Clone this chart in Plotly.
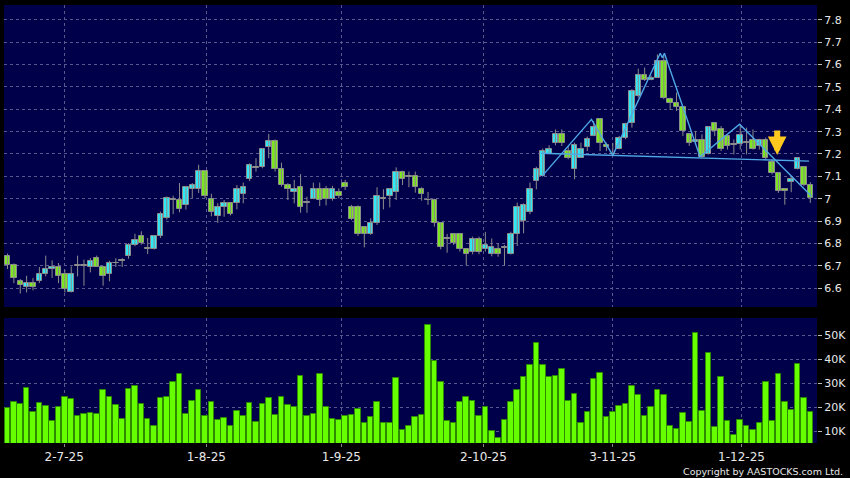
import plotly.graph_objects as go

# ---------------- data ----------------
opens = [6.743, 6.703, 6.631, 6.604, 6.622, 6.63, 6.663, 6.685, 6.694, 6.663,
         6.582, 6.7, 6.7, 6.694, 6.734, 6.694, 6.663, 6.712, 6.722, 6.742,
         6.793, 6.833, 6.776, 6.776, 6.833, 6.913, 6.998, 6.993, 6.973, 7.043,
         7.043, 7.124, 7.0, 6.922, 6.961, 6.979, 6.979, 7.021, 7.09, 7.14,
         7.14, 7.23, 7.26, 7.131, 7.06, 7.028, 7.051, 6.982, 7.0, 7.042,
         7.042, 7.0, 7.03, 7.07, 6.961, 6.961, 6.872, 6.84, 6.89, 7.0,
         7.01, 7.03, 7.121, 7.1, 7.1, 7.042, 6.994, 6.994, 6.89, 6.821,
         6.842, 6.842, 6.773, 6.76, 6.821, 6.773, 6.751, 6.773, 6.782, 6.751,
         6.842, 6.901, 6.939, 7.081, 7.101, 7.201, 7.251, 7.291, 7.213, 7.134,
         7.184, 7.233, 7.281, 7.355, 7.242, 7.2, 7.224, 7.273, 7.34, 7.46,
         7.552, 7.531, 7.542, 7.616, 7.445, 7.43, 7.412, 7.291, 7.253, 7.262,
         7.202, 7.34, 7.313, 7.28, 7.243, 7.243, 7.25, 7.262, 7.235, 7.262,
         7.163, 7.113, 7.044, 7.074, 7.134, 7.143, 7.063]
highs = [6.754, 6.71, 6.64, 6.655, 6.645, 6.694, 6.745, 6.724, 6.712, 6.682,
         6.697, 6.745, 6.727, 6.734, 6.745, 6.7, 6.722, 6.734, 6.734, 6.801,
         6.843, 6.854, 6.824, 6.835, 6.942, 7.01, 7.013, 7.07, 7.055, 7.07,
         7.152, 7.126, 7.022, 6.98, 6.994, 6.985, 7.061, 7.072, 7.158, 7.181,
         7.225, 7.29, 7.265, 7.161, 7.069, 7.084, 7.11, 7.009, 7.072, 7.072,
         7.057, 7.057, 7.046, 7.084, 6.972, 6.97, 6.875, 6.912, 7.051, 7.042,
         7.045, 7.14, 7.125, 7.121, 7.121, 7.051, 7.03, 7.0, 6.893, 6.842,
         6.845, 6.846, 6.776, 6.83, 6.83, 6.851, 6.822, 6.8, 6.793, 6.852,
         6.982, 6.979, 7.072, 7.143, 7.224, 7.239, 7.31, 7.31, 7.236, 7.251,
         7.251, 7.278, 7.348, 7.357, 7.251, 7.25, 7.281, 7.34, 7.49, 7.582,
         7.587, 7.552, 7.646, 7.646, 7.452, 7.475, 7.415, 7.293, 7.303, 7.288,
         7.325, 7.342, 7.325, 7.282, 7.265, 7.333, 7.318, 7.31, 7.268, 7.273,
         7.175, 7.115, 7.046, 7.1, 7.185, 7.145, 7.074]
lows = [6.685, 6.622, 6.575, 6.58, 6.59, 6.622, 6.652, 6.645, 6.622, 6.58,
        6.58, 6.652, 6.61, 6.67, 6.694, 6.61, 6.63, 6.694, 6.694, 6.731,
        6.787, 6.794, 6.752, 6.772, 6.824, 6.906, 6.931, 6.939, 6.951, 7.003,
        7.025, 7.003, 6.921, 6.891, 6.919, 6.925, 6.952, 6.979, 7.079, 7.121,
        7.136, 7.181, 7.121, 7.054, 6.994, 6.979, 6.937, 6.937, 6.998, 6.967,
        6.97, 6.991, 7.001, 7.039, 6.904, 6.833, 6.782, 6.838, 6.882, 6.952,
        6.961, 6.994, 7.061, 7.051, 7.027, 6.991, 6.972, 6.875, 6.773, 6.758,
        6.793, 6.763, 6.701, 6.751, 6.751, 6.763, 6.742, 6.74, 6.701, 6.75,
        6.788, 6.845, 6.931, 7.042, 7.1, 7.199, 7.239, 7.236, 7.176, 7.087,
        7.182, 7.213, 7.28, 7.213, 7.213, 7.19, 7.221, 7.266, 7.318, 7.452,
        7.527, 7.53, 7.54, 7.445, 7.397, 7.393, 7.281, 7.236, 7.243, 7.183,
        7.198, 7.28, 7.213, 7.22, 7.198, 7.22, 7.198, 7.22, 7.22, 7.175,
        7.108, 7.026, 6.973, 7.029, 7.131, 7.056, 6.981]
closes = [6.703, 6.645, 6.612, 6.622, 6.604, 6.663, 6.687, 6.694, 6.652, 6.595,
          6.663, 6.7, 6.7, 6.722, 6.694, 6.652, 6.712, 6.712, 6.722, 6.793,
          6.816, 6.801, 6.776, 6.833, 6.931, 7.001, 6.998, 6.952, 7.052, 7.063,
          7.124, 7.012, 6.942, 6.963, 6.979, 6.93, 7.042, 7.051, 7.149, 7.14,
          7.221, 7.26, 7.131, 7.06, 7.042, 7.042, 6.961, 6.982, 7.042, 6.994,
          7.0, 7.042, 7.01, 7.051, 6.91, 6.84, 6.84, 6.89, 7.01, 7.0,
          7.042, 7.121, 7.09, 7.1, 7.051, 7.019, 6.994, 6.89, 6.782, 6.821,
          6.8, 6.773, 6.751, 6.821, 6.76, 6.791, 6.782, 6.751, 6.782, 6.842,
          6.961, 6.97, 7.042, 7.131, 7.213, 7.224, 7.291, 7.251, 7.184, 7.239,
          7.224, 7.266, 7.321, 7.251, 7.231, 7.2, 7.273, 7.333, 7.482, 7.552,
          7.531, 7.542, 7.616, 7.452, 7.43, 7.412, 7.303, 7.251, 7.262, 7.187,
          7.322, 7.303, 7.223, 7.238, 7.243, 7.283, 7.25, 7.223, 7.262, 7.183,
          7.113, 7.033, 7.033, 7.086, 7.183, 7.063, 7.003]
volumes_k = [19.4, 21.9, 21.4, 27.9, 18.1, 21.8, 20.6, 14.2, 20.1, 24.3,
             23.5, 16.3, 16.9, 17.4, 17.1, 27.1, 24.2, 20.8, 15.1, 27.4,
             28.8, 21.3, 15.0, 12.1, 23.8, 24.3, 30.6, 33.8, 17.1, 22.4,
             26.9, 16.1, 21.9, 14.6, 15.4, 12.1, 18.5, 16.4, 21.8, 13.8,
             21.3, 23.6, 16.7, 24.0, 20.7, 20.1, 33.1, 16.3, 16.9, 33.8,
             19.9, 15.0, 14.4, 16.4, 16.7, 19.3, 13.2, 16.0, 21.9, 13.3,
             13.3, 31.9, 10.4, 12.2, 16.0, 16.7, 54.2, 39.2, 30.6, 14.2,
             13.2, 21.9, 24.3, 22.5, 16.3, 20.0, 9.9, 7.1, 14.7, 21.9,
             26.9, 32.5, 37.5, 46.7, 37.5, 32.5, 33.1, 35.7, 22.6, 25.3,
             13.5, 18.1, 31.7, 34.2, 16.0, 18.1, 20.3, 21.4, 28.6, 25.0,
             16.3, 19.9, 26.9, 24.9, 12.1, 10.8, 17.6, 13.8, 50.8, 18.2,
             42.4, 11.7, 32.4, 14.2, 8.2, 14.6, 11.9, 10.6, 13.5, 30.3,
             14.2, 33.6, 22.2, 18.9, 37.9, 23.6, 17.9]

date_tick_pos = [8.9, 31.2, 52.4, 74.7, 95.0, 115.2]
date_tick_text = ["2-7-25", "1-8-25", "1-9-25", "2-10-25", "3-11-25", "1-12-25"]
price_ticks = [6.6, 6.7, 6.8, 6.9, 7.0, 7.1, 7.2, 7.3, 7.4, 7.5, 7.6, 7.7, 7.8]
price_tick_text = ["6.6", "6.7", "6.8", "6.9", "7", "7.1", "7.2", "7.3", "7.4", "7.5", "7.6", "7.7", "7.8"]
vol_ticks = [10000, 20000, 30000, 40000, 50000]
vol_tick_text = ["10K", "20K", "30K", "40K", "50K"]

# pattern lines (index, price)
zigzag_x = [83.9, 91.65, 95.0, 102.45, 102.77, 103.1, 108.7, 114.9, 126.2]
zigzag_y = [7.101, 7.355, 7.194, 7.651, 7.631, 7.651, 7.187, 7.333, 7.011]
neck_x = [83.7, 125.8]
neck_y = [7.203, 7.168]
signal_x = 120.8
signal_y = 7.195

# ---------------- figure ----------------
n = len(closes)
idx = list(range(n))

CYAN = "#30E8F6"
GREEN = "#7CE620"
GRID = "#58588E"
TXT = "#E8E8E8"
FONT = "DejaVu Sans"

fig = go.Figure()

# wicks
wx, wy = [], []
for i in idx:
    wx += [i, i, None]
    wy += [lows[i], highs[i], None]
fig.add_trace(go.Scatter(x=wx, y=wy, mode="lines", line=dict(color="#8C8C8C", width=1),
                         hoverinfo="skip", showlegend=False, xaxis="x", yaxis="y"))

# bodies
bases, heights, colors = [], [], []
for o, c in zip(opens, closes):
    lo = min(o, c)
    h = abs(c - o)
    if h < 0.004:
        h = 0.004
        lo = min(o, c) - 0.002
    bases.append(lo)
    heights.append(h)
    colors.append(CYAN if c > o else (GREEN if c < o else "#8C8C8C"))
fig.add_trace(go.Bar(x=idx, y=heights, base=bases, width=0.86,
                     marker=dict(color=colors, line=dict(color="#8C8C8C", width=1)),
                     showlegend=False, xaxis="x", yaxis="y"))

# pattern lines
fig.add_trace(go.Scatter(x=neck_x, y=neck_y, mode="lines", line=dict(color="#4FA9E6", width=1.4),
                         showlegend=False, xaxis="x", yaxis="y"))
fig.add_trace(go.Scatter(x=zigzag_x, y=zigzag_y, mode="lines", line=dict(color="#4FA9E6", width=1.4),
                         showlegend=False, xaxis="x", yaxis="y"))

# volume
fig.add_trace(go.Bar(x=idx, y=[v * 1000 for v in volumes_k], width=0.88,
                     marker=dict(color="#66FF00", line=dict(color="#2E8A00", width=1)),
                     showlegend=False, xaxis="x2", yaxis="y2"))

W, H = 850, 478
xdom = [4 / W, 817 / W]
xr = [-0.55, 127.05]

axis_common = dict(showline=False, zeroline=False, gridcolor=GRID, griddash="3px,3px", gridwidth=1)

fig.update_layout(
    width=W, height=H,
    margin=dict(l=0, r=0, t=0, b=0),
    paper_bgcolor="#000000",
    plot_bgcolor="#00004A",
    font=dict(family=FONT, color=TXT, size=11),
    bargap=0,
    barmode="overlay",
    xaxis=dict(domain=xdom, range=xr, anchor="y", tickvals=date_tick_pos, showticklabels=False,
               ticks="", showgrid=True, **axis_common),
    yaxis=dict(domain=[(H - 307) / H, (H - 5) / H], range=[6.515, 7.867], side="right",
               tickvals=price_ticks, ticktext=price_tick_text, ticks="outside", ticklen=4,
               tickcolor="#BBBBBB", tickfont=dict(size=11, color=TXT), showgrid=True,
               anchor="x", **axis_common),
    xaxis2=dict(domain=xdom, range=xr, anchor="y2", tickvals=date_tick_pos, ticktext=date_tick_text,
                ticks="outside", ticklen=3, tickcolor="#888888", tickfont=dict(size=12, color=TXT),
                showgrid=True, **axis_common),
    yaxis2=dict(domain=[(H - 443) / H, (H - 318) / H], range=[5000, 57100], side="right",
                tickvals=vol_ticks, ticktext=vol_tick_text, ticks="outside", ticklen=4,
                tickcolor="#BBBBBB", tickfont=dict(size=11, color=TXT), showgrid=True,
                anchor="x2", **axis_common),
)

fig.add_annotation(x=signal_x, y=signal_y, xref="x", yref="y", ax=0, ay=-26, text="",
                   showarrow=True, arrowhead=2, arrowsize=0.62, arrowwidth=6, arrowcolor="#FFC81E")

fig.add_annotation(x=845 / W, y=(H - 471) / H, xref="paper", yref="paper", xanchor="right",
                   yanchor="middle", showarrow=False, text="Copyright by AASTOCKS.com Ltd.",
                   font=dict(family=FONT, size=9.5, color=TXT))

fig.write_html("out.html", config={"displayModeBar": False},
               post_script="document.body.style.margin='0';document.body.style.padding='0';")
